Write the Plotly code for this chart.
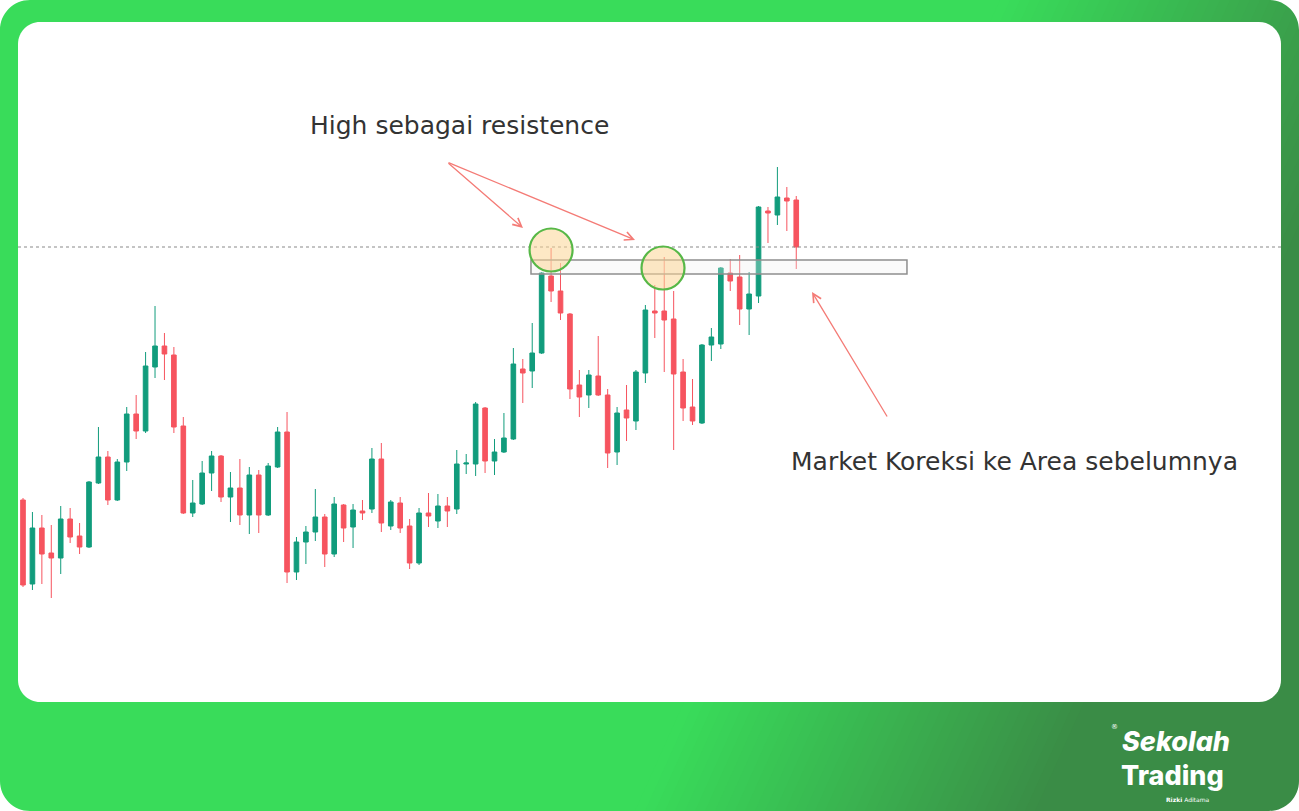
import plotly.graph_objects as go

# ---------------- data (price units) ----------------
idx = list(range(83))
open_ = [311,227,283,258,253,292,275,264,328,354,311,349,397,380,444,465,456,385,298,307,
         338,355,314,323,296,336,296,344,379,239,269,279,294,257,306,284,300,302,352,285,
         308,285,248,298,290,305,302,347,347,403,350,359,372,442,440,458,535,520,497,426,
         416,435,416,359,401,390,438,500,500,492,439,404,388,466,467,538,534,502,515,600,
         596,613,611]
high = [313,299,296,286,305,303,288,330,384,360,352,404,416,459,505,478,464,394,331,350,
        360,356,339,352,344,341,348,384,399,274,285,322,297,314,307,307,311,363,368,311,
        314,292,303,318,317,314,361,357,409,404,372,398,463,452,488,539,563,548,498,441,
        441,475,422,404,426,441,506,526,554,520,452,432,467,483,544,552,556,539,605,604,
        644,624,615]
low = [224,221,227,213,237,268,257,263,327,306,310,340,372,378,433,431,378,297,294,306,
       320,309,289,286,277,278,295,343,228,231,247,270,244,254,269,263,291,298,279,281,
       278,242,246,284,283,284,297,337,335,338,336,358,371,408,423,457,509,491,412,394,
       403,415,343,346,370,381,428,473,439,361,390,386,387,450,462,520,486,476,508,568,
       586,580,542]
close = [226,283,257,253,292,274,264,329,354,311,349,397,380,445,465,457,384,298,308,338,
         355,314,323,296,336,296,345,379,239,269,279,294,257,307,283,301,298,352,288,309,
         283,248,298,295,305,300,347,348,407,350,359,373,447,438,458,538,520,498,422,414,
         436,416,358,398,393,439,501,498,491,437,403,390,466,474,543,530,502,517,604,598,
         614,610,564]

resistance_level = 564
zone_top, zone_bottom = 551, 537
zone_start, zone_end = 53.87, 93.74
touch_idx = [56, 67.87]
touch_price = [561, 543]

title_text = "High sebagai resistence"
note_text = "Market Koreksi ke Area sebelumnya"

W, H = 1299, 811
SP = 9.43          # pixels per candle
X0 = 23            # pixel of first candle


def px(x):
    return x / W


def py(y):
    return 1 - y / H


def P(x, y):
    return f"{px(x):.5f},{py(y):.5f}"


def rrect_path(x0, y0, x1, y1, r):
    k = 0.5523 * r
    return ("M " + P(x0 + r, y0) + " L " + P(x1 - r, y0) +
            " C " + P(x1 - r + k, y0) + " " + P(x1, y0 + r - k) + " " + P(x1, y0 + r) +
            " L " + P(x1, y1 - r) +
            " C " + P(x1, y1 - r + k) + " " + P(x1 - r + k, y1) + " " + P(x1 - r, y1) +
            " L " + P(x0 + r, y1) +
            " C " + P(x0 + r - k, y1) + " " + P(x0, y1 - r + k) + " " + P(x0, y1 - r) +
            " L " + P(x0, y0 + r) +
            " C " + P(x0, y0 + r - k) + " " + P(x0 + r - k, y0) + " " + P(x0 + r, y0) + " Z")


shapes = []
# base green
shapes.append(dict(type="rect", xref="paper", yref="paper", x0=0, x1=1, y0=0, y1=1,
                   fillcolor="#39DC5A", line=dict(width=0), layer="below"))
# diagonal gradient strips
c0 = (57, 220, 90)
c1 = (58, 140, 70)
s_start, s_end, kk = 1000, 1400, 0.45
n = 40
for i in range(n + 1):
    sa = s_start + (s_end - s_start) * i / n
    sb = sa + (s_end - s_start) / n + 1 if i < n else 3000
    t = i / n
    col = tuple(int(round(c0[j] + (c1[j] - c0[j]) * t)) for j in range(3))
    path = ("M " + P(sa, 0) + " L " + P(sb, 0) + " L " + P(sb - kk * H, H) +
            " L " + P(sa - kk * H, H) + " Z")
    shapes.append(dict(type="path", xref="paper", yref="paper", path=path,
                       fillcolor="rgb(%d,%d,%d)" % col, line=dict(width=0), layer="below"))

# white outer corners
R = 30
kr = 0.5523 * R
corners = [
    "M " + P(0, 0) + " L " + P(R, 0) + " C " + P(R - kr, 0) + " " + P(0, R - kr) + " " + P(0, R) + " Z",
    "M " + P(W, 0) + " L " + P(W - R, 0) + " C " + P(W - R + kr, 0) + " " + P(W, R - kr) + " " + P(W, R) + " Z",
    "M " + P(0, H) + " L " + P(R, H) + " C " + P(R - kr, H) + " " + P(0, H - R + kr) + " " + P(0, H - R) + " Z",
    "M " + P(W, H) + " L " + P(W - R, H) + " C " + P(W - R + kr, H) + " " + P(W, H - R + kr) + " " + P(W, H - R) + " Z",
]
for c in corners:
    shapes.append(dict(type="path", xref="paper", yref="paper", path=c,
                       fillcolor="white", line=dict(width=0), layer="below"))

# inner white card
shapes.append(dict(type="path", xref="paper", yref="paper",
                   path=rrect_path(18, 22, 1281, 702, 22),
                   fillcolor="white", line=dict(width=0), layer="below"))

# resistance dotted line
shapes.append(dict(type="line", xref="paper", yref="y", x0=px(18), x1=px(1281),
                   y0=resistance_level, y1=resistance_level,
                   line=dict(color="#8a8a8a", width=1.2, dash="dot"), layer="above"))
# zone rectangle
shapes.append(dict(type="rect", xref="x", yref="y", x0=zone_start, x1=zone_end,
                   y0=zone_bottom, y1=zone_top,
                   fillcolor="rgba(240,240,240,0.3)",
                   line=dict(color="#8e8e8e", width=1.5), layer="above"))
# touch circles
rx, ry = 21.5 / SP, 21.5
for cx, cy in zip(touch_idx, touch_price):
    shapes.append(dict(type="circle", xref="x", yref="y",
                       x0=cx - rx, x1=cx + rx, y0=cy - ry, y1=cy + ry,
                       fillcolor="rgba(252,214,150,0.55)",
                       line=dict(color="#57b847", width=2.2), layer="above"))

fig = go.Figure()
fig.add_trace(go.Candlestick(
    x=idx, open=open_, high=high, low=low, close=close,
    increasing=dict(line=dict(color="#119c7c", width=1), fillcolor="#119c7c"),
    decreasing=dict(line=dict(color="#f6545f", width=1), fillcolor="#f6545f"),
    whiskerwidth=0, showlegend=False, hoverinfo="skip",
))

arrow_col = "#f47b76"
annotations = [
    dict(xref="paper", yref="paper", x=px(459), y=py(125), text=title_text,
         showarrow=False, xanchor="center", yanchor="middle",
         font=dict(family="DejaVu Sans", size=25, color="#333333")),
    dict(xref="paper", yref="paper", x=px(789), y=py(462), text=note_text,
         showarrow=False, xanchor="left", yanchor="middle",
         font=dict(family="DejaVu Sans", size=25, color="#333333")),
    dict(xref="x", yref="y", x=53.02, y=583, ax=-76, ay=-66, text="", showarrow=True,
         arrowhead=5, arrowsize=1.3, arrowwidth=1.3, arrowcolor=arrow_col),
    dict(xref="x", yref="y", x=64.9, y=571, ax=-188, ay=-78, text="", showarrow=True,
         arrowhead=5, arrowsize=1.3, arrowwidth=1.3, arrowcolor=arrow_col),
    dict(xref="x", yref="y", x=83.67, y=519, ax=76, ay=126, text="", showarrow=True,
         arrowhead=5, arrowsize=1.3, arrowwidth=1.3, arrowcolor=arrow_col),
    # logo
    dict(xref="paper", yref="paper", x=px(1120), y=py(741), text="<i>Sekolah</i>",
         showarrow=False, xanchor="left", yanchor="middle",
         font=dict(family="Inter", size=27, color="white", weight=800)),
    dict(xref="paper", yref="paper", x=px(1119), y=py(775), text="Trading",
         showarrow=False, xanchor="left", yanchor="middle",
         font=dict(family="Inter", size=27, color="white", weight=800)),
    dict(xref="paper", yref="paper", x=px(1120), y=py(727), text="®",
         showarrow=False, xanchor="right", yanchor="middle",
         font=dict(family="DejaVu Sans", size=7, color="white")),
    dict(xref="paper", yref="paper", x=px(1187), y=py(799), text="<b>Rizki</b> Aditama",
         showarrow=False, xanchor="center", yanchor="middle",
         font=dict(family="DejaVu Sans", size=6, color="white")),
]

fig.update_layout(
    width=W, height=H, margin=dict(l=0, r=0, t=0, b=0, pad=0),
    paper_bgcolor="white", plot_bgcolor="rgba(0,0,0,0)",
    xaxis=dict(range=[(0 - X0) / SP, (W - X0) / SP], visible=False,
               rangeslider=dict(visible=False), fixedrange=True),
    yaxis=dict(range=[811 - H, 811], visible=False, fixedrange=True),
    shapes=shapes, annotations=annotations, showlegend=False,
)

fig.write_html("out.html", post_script="document.body.style.margin='0';",
               config=dict(displayModeBar=False))
